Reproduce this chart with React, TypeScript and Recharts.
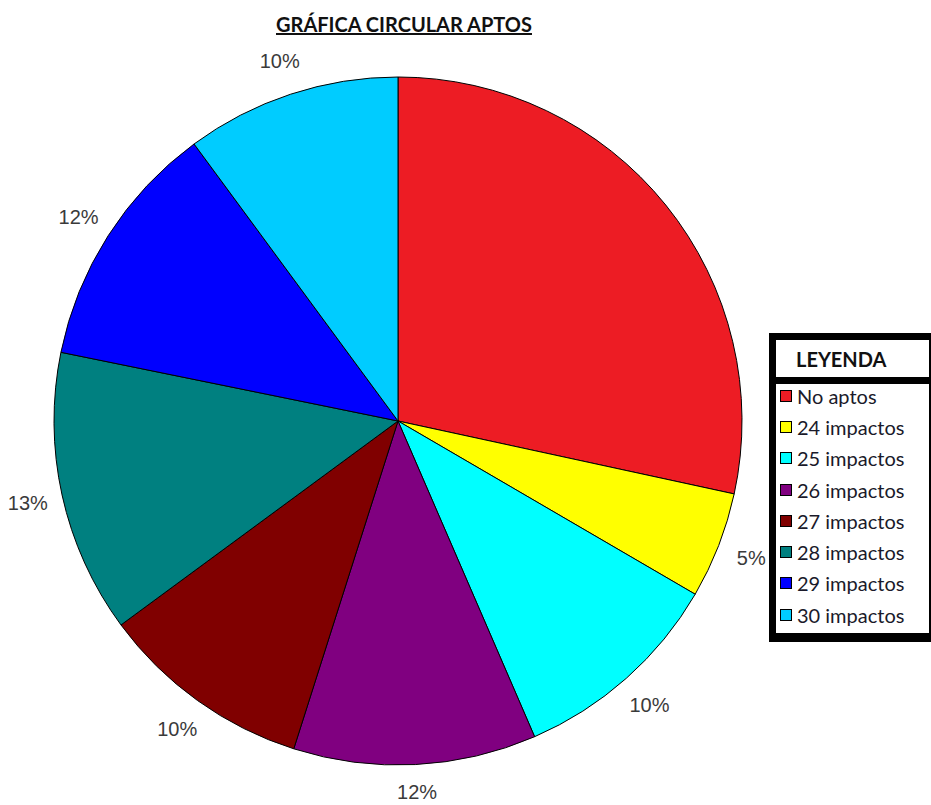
import React from 'react';
import { PieChart, Pie, Cell, Legend } from 'recharts';

const categories = ['No aptos', '24 impactos', '25 impactos', '26 impactos', '27 impactos', '28 impactos', '29 impactos', '30 impactos'];
const values = [28.4, 5.0, 10.1, 11.4, 10.0, 13.3, 11.7, 10.1];
const labels = ['', '5%', '10%', '12%', '10%', '13%', '12%', '10%'];
const colors = ['#ED1C24', '#FFFF00', '#00FFFF', '#800080', '#800000', '#008080', '#0000FF', '#00CCFF'];

const data = categories.map((name, i) => ({ name, value: values[i], label: labels[i] }));

const RAD = Math.PI / 180;

const renderLabel = (props: any) => {
  const { cx, cy, midAngle, outerRadius, index } = props;
  const text = labels[index];
  if (!text) return null;
  const r = outerRadius + 35;
  const x = cx + r * Math.cos(-midAngle * RAD);
  const y = Math.min(cy + r * Math.sin(-midAngle * RAD), 792);
  return (
    <text x={x} y={y} textAnchor="middle" dominantBaseline="central" fill="#3a3a3a"
      style={{ fontFamily: '"Liberation Sans", Arial, sans-serif', fontSize: 20 }}>
      {text}
    </text>
  );
};

const LegendBox = () => (
  <div style={{ width: 162, height: 309, boxSizing: 'border-box', border: '7px solid #000', borderRight: '2px solid #000', borderBottom: '9px solid #000', background: '#fff', fontFamily: 'Lato, "Open Sans", sans-serif' }}>
    <div style={{ height: 37, borderBottom: '7px solid #000', display: 'flex', alignItems: 'center', paddingLeft: 20, fontWeight: 'bold', fontSize: 20, color: '#111' }}>
      LEYENDA
    </div>
    <div style={{ marginTop: -4 }}>
      {categories.map((c, i) => (
        <div key={c} style={{ height: 31.3, display: 'flex', alignItems: 'center', paddingLeft: 4, fontSize: 20, color: '#1a1a2a', whiteSpace: 'nowrap' }}>
          <span style={{ display: 'inline-block', width: 10, height: 10, border: '1px solid #000', background: colors[i], marginRight: 5, flexShrink: 0 }} />
          {c}
        </div>
      ))}
    </div>
  </div>
);

export default function App() {
  return (
    <div style={{ position: 'absolute', left: 0, top: 0, width: 931, height: 805, background: '#fff' }}>
      <div style={{ position: 'absolute', left: 0, top: 12, width: 808, textAlign: 'center', fontFamily: 'Lato, "Open Sans", sans-serif', fontWeight: 'bold', fontSize: 20, textDecoration: 'underline', color: '#111' }}>
        GRÁFICA CIRCULAR APTOS
      </div>
      <PieChart width={931} height={805} margin={{ top: 0, right: 0, bottom: 0, left: 0 }} style={{ position: 'absolute', left: 0, top: 0 }}>
        <Pie
          data={data}
          dataKey="value"
          nameKey="name"
          cx={398}
          cy={421}
          outerRadius={344}
          startAngle={90}
          endAngle={-270}
          stroke="#000"
          strokeWidth={1}
          label={renderLabel}
          labelLine={false}
          isAnimationActive={false}
        >
          {data.map((d, i) => (
            <Cell key={d.name} fill={colors[i]} />
          ))}
        </Pie>
        <Legend content={<LegendBox />} wrapperStyle={{ position: 'absolute', left: 769, top: 333, width: 162, height: 309, bottom: 'auto' }} />
      </PieChart>
    </div>
  );
}
